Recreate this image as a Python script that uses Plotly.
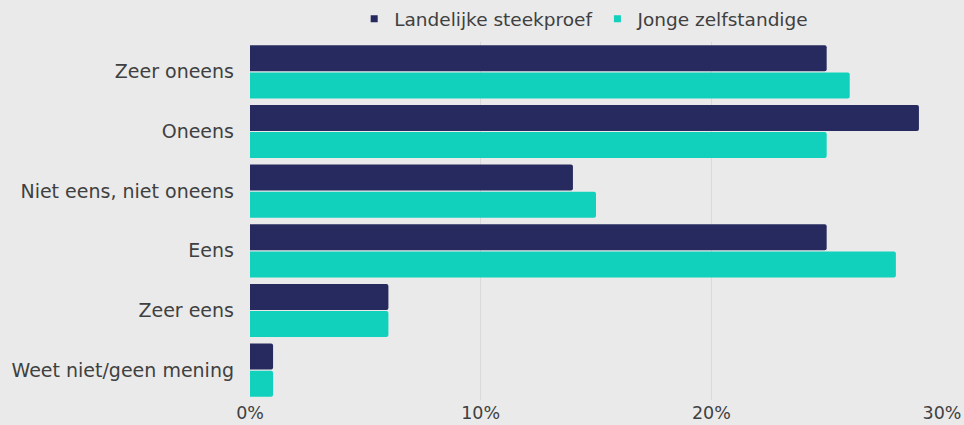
import plotly.graph_objects as go

categories = ["Zeer oneens", "Oneens", "Niet eens, niet oneens", "Eens", "Zeer eens", "Weet niet/geen mening"]
landelijk = [25, 29, 14, 25, 6, 1]
jonge = [26, 25, 15, 28, 6, 1]
series_names = ["Landelijke steekproef", "Jonge zelfstandige"]
colors = ["#262a5e", "#11d1bc"]
BG = "#eaeaea"

fig = go.Figure()
for vals, name, col in zip([landelijk, jonge], series_names, colors):
    fig.add_trace(go.Bar(y=categories, x=vals, name=name, orientation="h", showlegend=False,
                         marker=dict(color=col, line=dict(width=0), cornerradius=2)))
for name, col in zip(series_names, colors):
    fig.add_trace(go.Scatter(x=[None], y=[None], mode="markers", name=name,
                             marker=dict(symbol="square", size=7, color=col)))

fig.update_layout(
    width=964, height=425,
    margin=dict(l=250, r=22, t=42, b=25),
    paper_bgcolor=BG, plot_bgcolor=BG,
    barmode="group", bargap=0.09, bargroupgap=0.04,
    font=dict(family="DejaVu Sans, sans-serif", size=18, color="#404040"),
    legend=dict(orientation="h", x=0.606, xanchor="center", xref="container",
                y=0.955, yanchor="middle", yref="container", font=dict(size=18.5),
                traceorder="normal", itemwidth=30, bgcolor="rgba(0,0,0,0)"),
    xaxis=dict(range=[0, 30], dtick=10, ticksuffix="%", showgrid=True,
               gridcolor="rgba(205,205,205,0.6)", zeroline=False, showline=False,
               tickfont=dict(size=17.5), automargin=False),
    yaxis=dict(autorange="reversed", showgrid=False, ticks="", ticklabelstandoff=15,
               tickfont=dict(size=19), automargin=False),
)

fig.write_html(
    "out.html",
    config={"displayModeBar": False},
    post_script="document.body.style.margin='0';document.body.style.background='%s';" % BG,
)
